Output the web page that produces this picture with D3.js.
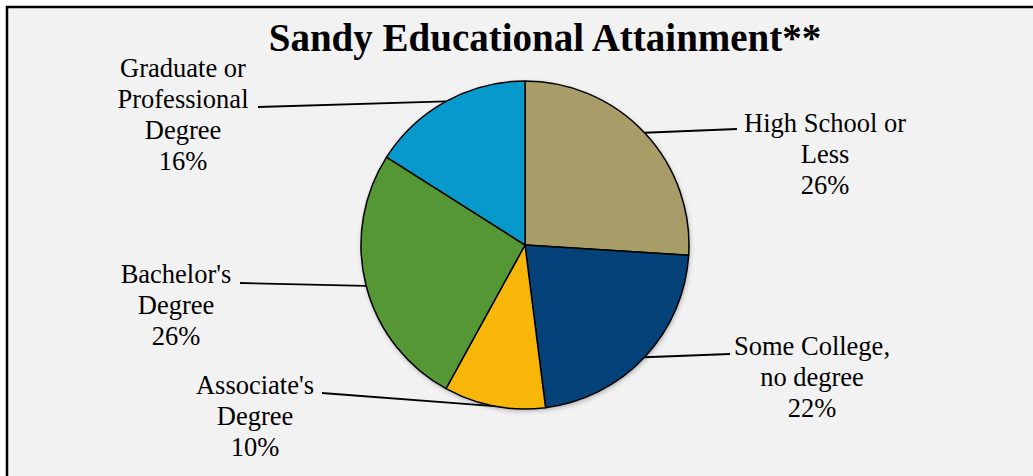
<!DOCTYPE html>
<html>
<head>
<meta charset="utf-8">
<script src="https://cdn.jsdelivr.net/npm/d3@7"></script>
<style>
  body { margin: 0; background: #ffffff; }
</style>
</head>
<body>
<div id="chart"></div>
<script>
const width = 1033;
const height = 476;

// Data
const categories = ["High School or Less", "Some College, no degree", "Associate's Degree", "Bachelor's Degree", "Graduate or Professional Degree"];
const shares = [26, 22, 10, 26, 16];
const labelLines = [
  ["High School or", "Less"],
  ["Some College,", "no degree"],
  ["Associate's", "Degree"],
  ["Bachelor's", "Degree"],
  ["Graduate or", "Professional", "Degree"]
];
const colors = ["#a89c68", "#05427a", "#f8b608", "#559735", "#0899cc"];

// label anchor (centre x, first baseline y) and leader line end on the text side
const labelPos = [
  { x: 825, y: 132, lx: 737, ly: 129 },
  { x: 812, y: 355, lx: 730, ly: 354 },
  { x: 255, y: 394, lx: 322, ly: 393 },
  { x: 176, y: 283, lx: 240, ly: 283 },
  { x: 183, y: 77, lx: 258, ly: 107 }
];

const cx = 525, cy = 245, radius = 164;
const font = "'Liberation Serif', 'DejaVu Serif', serif";

const svg = d3.select("#chart")
  .append("svg")
    .attr("width", width)
    .attr("height", height)
    .style("display", "block");

const defs = svg.append("defs");
const shadow = defs.append("filter").attr("id", "shadow")
    .attr("x", "-20%").attr("y", "-20%").attr("width", "140%").attr("height", "140%");
shadow.append("feDropShadow")
    .attr("dx", 1).attr("dy", 2).attr("stdDeviation", 2.5)
    .attr("flood-color", "#000").attr("flood-opacity", 0.3);

// background panel with border on top/left (right/bottom clipped)
svg.append("rect")
    .attr("x", 7).attr("y", 7)
    .attr("width", width + 20).attr("height", height + 20)
    .attr("fill", "#f2f2f2")
    .attr("stroke", "#000")
    .attr("stroke-width", 2.5);

svg.append("text")
    .attr("x", 545)
    .attr("y", 51)
    .attr("text-anchor", "middle")
    .style("font-family", font)
    .style("font-weight", "bold")
    .style("font-size", "39px")
    .text("Sandy Educational Attainment**");

const pie = d3.pie().sort(null).value(d => d);
const arcs = pie(shares);
const arc = d3.arc().innerRadius(0).outerRadius(radius);

const g = svg.append("g").attr("transform", `translate(${cx},${cy})`);

g.append("circle")
    .attr("r", radius)
    .attr("fill", "#000")
    .attr("filter", "url(#shadow)");

g.selectAll("path.slice")
  .data(arcs)
  .join("path")
    .attr("class", "slice")
    .attr("d", arc)
    .attr("fill", (d, i) => colors[i])
    .attr("stroke", "#000")
    .attr("stroke-width", 1.5)
    .attr("stroke-linejoin", "round");

// leader lines
const edge = d3.arc().innerRadius(radius).outerRadius(radius);
svg.append("g")
  .selectAll("line")
  .data(arcs)
  .join("line")
    .attr("x1", d => cx + edge.centroid(d)[0])
    .attr("y1", d => cy + edge.centroid(d)[1])
    .attr("x2", (d, i) => labelPos[i].lx)
    .attr("y2", (d, i) => labelPos[i].ly)
    .attr("stroke", "#000")
    .attr("stroke-width", 1.8);

// labels
const labels = svg.append("g")
    .style("font-family", font)
    .style("font-size", "26.5px")
    .attr("text-anchor", "middle")
    .attr("fill", "#000")
  .selectAll("text")
  .data(arcs)
  .join("text")
    .attr("x", (d, i) => labelPos[i].x)
    .attr("y", (d, i) => labelPos[i].y);

labels.each(function(d, i) {
  const t = d3.select(this);
  const lines = labelLines[i].concat([shares[i] + "%"]);
  lines.forEach((s, j) => {
    t.append("tspan")
      .attr("x", labelPos[i].x)
      .attr("dy", j === 0 ? 0 : 31)
      .text(s);
  });
});
</script>
</body>
</html>
